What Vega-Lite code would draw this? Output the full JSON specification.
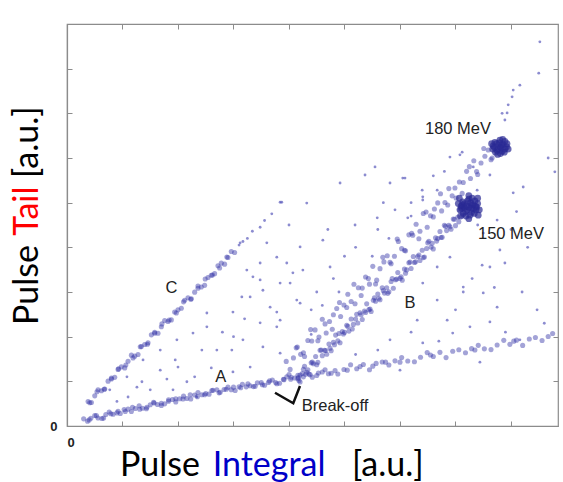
{
"$schema": "https://vega.github.io/schema/vega-lite/v6.json",
"width": 491, "height": 402,
"autosize": {"type": "none"},
"padding": {"left": 67, "top": 24, "right": 5, "bottom": 56},
"background": "white",
"config": {
 "view": {"stroke": "#8c8c8c", "strokeWidth": 1.2},
 "axis": {"grid": false, "domainColor": "#8c8c8c", "domainWidth": 1.2, "tickColor": "#8c8c8c", "tickSize": -5, "tickWidth": 1, "title": null, "labelFont": "Liberation Sans", "labelFontSize": 13, "labelFontWeight": "bold", "labelColor": "#222"}
},
"datasets": {
 "band": [
{"x":3.0,"y":1.6},{"x":3.7,"y":1.09},{"x":4.3,"y":1.75},{"x":5.0,"y":2.34},{"x":5.6,"y":1.8},{"x":6.3,"y":1.69},{"x":7.0,"y":2.59},{"x":7.6,"y":3.14},{"x":8.3,"y":2.64},{"x":9.0,"y":2.93},{"x":9.6,"y":2.79},{"x":10.3,"y":3.68},{"x":11.0,"y":3.77},{"x":11.6,"y":3.23},{"x":12.3,"y":3.92},{"x":13.0,"y":4.51},{"x":13.6,"y":3.97},{"x":14.3,"y":3.87},{"x":15.0,"y":4.76},{"x":15.6,"y":5.32},{"x":16.3,"y":4.81},{"x":17.0,"y":5.1},{"x":17.6,"y":4.96},{"x":18.3,"y":5.85},{"x":19.0,"y":5.94},{"x":19.6,"y":5.4},{"x":20.3,"y":6.09},{"x":21.0,"y":6.68},{"x":21.6,"y":6.14},{"x":22.3,"y":6.03},{"x":23.0,"y":6.93},{"x":23.6,"y":7.49},{"x":24.3,"y":6.98},{"x":25.0,"y":7.27},{"x":25.6,"y":7.13},{"x":26.3,"y":8.02},{"x":27.0,"y":8.11},{"x":27.6,"y":7.57},{"x":28.3,"y":8.16},{"x":29.0,"y":8.7},{"x":29.6,"y":8.12},{"x":30.3,"y":7.96},{"x":31.0,"y":8.8},{"x":31.6,"y":9.32},{"x":32.3,"y":8.76},{"x":33.0,"y":9.0},{"x":33.6,"y":8.82},{"x":34.3,"y":9.66},{"x":35.0,"y":9.7},{"x":35.6,"y":9.12},{"x":36.3,"y":9.76},{"x":37.0,"y":10.3},{"x":37.6,"y":9.72},{"x":38.3,"y":9.58},{"x":39.0,"y":10.45},{"x":39.6,"y":11.0},{"x":40.3,"y":10.48},{"x":41.0,"y":10.75},{"x":41.6,"y":10.6},{"x":42.0,"y":11.4},
{"x":4.0,"y":1.37},{"x":5.3,"y":2.32},{"x":6.6,"y":1.77},{"x":7.9,"y":2.73},{"x":9.2,"y":3.28},{"x":10.5,"y":3.24},{"x":11.8,"y":4.19},{"x":13.1,"y":3.74},{"x":14.4,"y":4.19},{"x":15.7,"y":5.15},{"x":17.0,"y":4.6},{"x":18.3,"y":5.55},{"x":19.6,"y":6.1},{"x":20.9,"y":6.05},{"x":22.2,"y":7.01},{"x":23.5,"y":6.56},{"x":24.8,"y":7.01},{"x":26.1,"y":7.96},{"x":27.4,"y":7.42},{"x":28.7,"y":8.24},{"x":30.0,"y":8.7},{"x":31.3,"y":8.56},{"x":32.6,"y":9.42},{"x":33.9,"y":8.88},{"x":35.2,"y":9.24},{"x":36.5,"y":10.1},{"x":37.8,"y":9.46},{"x":39.1,"y":10.38},{"x":40.4,"y":10.9},{"x":41.7,"y":10.83},
{"x":43.0,"y":11.6},{"x":44.2,"y":10.94},{"x":45.3,"y":11.85},{"x":46.5,"y":12.59},{"x":47.6,"y":11.81},{"x":48.8,"y":11.65},{"x":49.9,"y":12.66},{"x":51.1,"y":13.7},{"x":52.2,"y":12.82},{"x":53.4,"y":13.76},{"x":54.5,"y":12.58},{"x":55.7,"y":14.01},{"x":56.8,"y":14.33},{"x":58.0,"y":13.67},{"x":59.1,"y":14.59},{"x":60.3,"y":15.32},{"x":61.4,"y":14.54},{"x":62.6,"y":14.38},{"x":63.7,"y":15.4},{"x":64.9,"y":16.43},{"x":66.0,"y":15.55},{"x":67.2,"y":16.49},{"x":68.3,"y":15.31},{"x":69.5,"y":16.75},{"x":70.6,"y":17.06},{"x":71.8,"y":16.4},{"x":72.9,"y":17.32},{"x":74.1,"y":18.06},{"x":75.2,"y":17.27},{"x":76.4,"y":17.11},{"x":77.5,"y":18.13},{"x":78.7,"y":19.17},{"x":79.8,"y":18.28},{"x":81.0,"y":19.22},{"x":82.1,"y":18.04},{"x":83.3,"y":19.48},{"x":84.4,"y":19.8},{"x":85.6,"y":19.13},{"x":86.7,"y":20.05},{"x":87.5,"y":20.7},
{"x":42.6,"y":11.0},{"x":43.8,"y":11.5},{"x":45.0,"y":11.3},{"x":46.0,"y":12.1},{"x":47.1,"y":11.7},{"x":48.3,"y":12.4},{"x":50.5,"y":12.5},{"x":52.8,"y":13.3},{"x":55.1,"y":13.4},{"x":57.4,"y":14.3},{"x":60.0,"y":14.3},{"x":65.5,"y":15.9},{"x":73.5,"y":17.0},{"x":80.5,"y":19.0},
{"x":3.8,"y":5.5},{"x":4.4,"y":5.27},{"x":5.0,"y":6.75},{"x":5.6,"y":8.12},{"x":6.2,"y":7.9},{"x":6.8,"y":8.27},{"x":7.4,"y":10.04},{"x":8.0,"y":10.52},{"x":8.6,"y":10.89},{"x":9.2,"y":12.67},{"x":9.8,"y":13.24},{"x":10.4,"y":13.01},{"x":11.0,"y":14.49},{"x":11.6,"y":15.86},{"x":12.2,"y":15.64},{"x":12.8,"y":16.01},{"x":13.4,"y":17.78},{"x":14.0,"y":18.26},{"x":14.6,"y":18.63},{"x":15.2,"y":20.41},{"x":15.8,"y":20.98},{"x":16.4,"y":20.75},{"x":17.0,"y":22.23},{"x":17.6,"y":23.6},{"x":18.2,"y":23.38},{"x":18.8,"y":23.75},{"x":19.4,"y":25.52},{"x":20.0,"y":26.0},{"x":20.6,"y":26.37},{"x":21.2,"y":28.15},{"x":21.8,"y":28.72},{"x":22.4,"y":28.49},{"x":23.0,"y":29.97},{"x":23.6,"y":31.34},{"x":24.2,"y":31.12},{"x":24.8,"y":31.49},{"x":25.4,"y":33.26},{"x":26.0,"y":33.74},{"x":26.6,"y":34.11},{"x":27.2,"y":35.89},{"x":27.8,"y":36.46},{"x":28.4,"y":36.23},{"x":29.0,"y":37.71},{"x":29.6,"y":39.08},{"x":30.2,"y":38.86},
{"x":4.1,"y":5.19},{"x":5.4,"y":7.66},{"x":6.7,"y":8.24},{"x":8.0,"y":10.72},{"x":9.3,"y":12.8},{"x":10.6,"y":13.67},{"x":11.9,"y":15.25},{"x":13.2,"y":17.73},{"x":14.5,"y":18.3},{"x":15.8,"y":20.78},{"x":17.1,"y":22.86},{"x":18.4,"y":23.73},{"x":19.7,"y":25.31},{"x":21.0,"y":27.79},{"x":22.3,"y":28.37},{"x":23.6,"y":30.84},{"x":24.9,"y":32.92},{"x":26.2,"y":33.8},{"x":27.5,"y":35.37},{"x":28.8,"y":37.85},
{"x":39.5,"y":14.46},{"x":40.2,"y":12.67},{"x":40.8,"y":15.25},{"x":41.5,"y":17.66},{"x":42.1,"y":16.04},{"x":42.8,"y":15.55},{"x":43.4,"y":19.13},{"x":44.1,"y":19.04},{"x":44.7,"y":21.52},{"x":45.4,"y":19.93},{"x":46.0,"y":23.91},{"x":46.7,"y":20.82},{"x":47.3,"y":23.4},{"x":48.0,"y":24.91},{"x":48.6,"y":26.29},{"x":49.3,"y":24.5},{"x":49.9,"y":27.08},{"x":50.6,"y":29.49},{"x":51.2,"y":27.87},{"x":51.9,"y":27.38},{"x":52.5,"y":30.96},{"x":53.2,"y":30.87},{"x":53.8,"y":33.35},{"x":54.5,"y":31.76},{"x":55.1,"y":35.74},{"x":55.8,"y":32.65},{"x":56.4,"y":35.23},{"x":57.1,"y":36.74},{"x":57.7,"y":38.12},{"x":58.4,"y":36.33},{"x":59.0,"y":38.01},{"x":59.7,"y":41.32},{"x":60.3,"y":39.7},{"x":61.0,"y":39.21},{"x":61.6,"y":42.79},{"x":62.3,"y":42.7},{"x":62.9,"y":45.18},{"x":63.6,"y":43.59},{"x":64.2,"y":47.57},{"x":64.9,"y":44.48},{"x":65.5,"y":47.06},{"x":66.2,"y":48.57},{"x":66.8,"y":49.95},{"x":67.5,"y":48.16},{"x":68.1,"y":50.04},{"x":68.8,"y":53.15},{"x":69.4,"y":51.53},{"x":70.1,"y":51.04},{"x":70.7,"y":54.62},{"x":71.4,"y":54.53},{"x":72.0,"y":57.01},{"x":72.7,"y":55.42},{"x":73.3,"y":59.4},{"x":74.0,"y":56.31},{"x":74.6,"y":58.89},{"x":75.3,"y":60.4},{"x":75.9,"y":61.78},{"x":76.6,"y":59.99},
{"x":40.0,"y":11.51},{"x":41.3,"y":17.5},{"x":42.6,"y":16.39},{"x":43.9,"y":21.58},{"x":45.2,"y":19.07},{"x":46.5,"y":22.86},{"x":47.8,"y":21.65},{"x":49.1,"y":27.64},{"x":50.4,"y":26.53},{"x":51.7,"y":31.72},{"x":53.0,"y":29.21},{"x":54.3,"y":33.0},{"x":55.6,"y":31.79},{"x":56.9,"y":37.78},{"x":58.2,"y":36.67},{"x":59.5,"y":41.86},{"x":60.8,"y":39.35},{"x":62.1,"y":43.14},{"x":63.4,"y":41.93},{"x":64.7,"y":47.92},{"x":66.0,"y":46.81},{"x":67.3,"y":52.0},{"x":68.6,"y":49.49},{"x":69.9,"y":53.28},{"x":71.2,"y":52.07},{"x":72.5,"y":58.06},{"x":73.8,"y":56.95},{"x":75.1,"y":62.14},{"x":76.4,"y":59.63},
{"x":41.6,"y":11.35},{"x":42.0,"y":9.85},{"x":42.4,"y":11.75},{"x":42.8,"y":13.35},{"x":43.2,"y":12.05},{"x":43.6,"y":11.65},{"x":44.0,"y":14.15},{"x":44.4,"y":13.95},{"x":44.8,"y":15.55},{"x":45.2,"y":14.25},{"x":45.6,"y":16.95},{"x":46.0,"y":15.75},{"x":46.4,"y":16.95},{"x":46.8,"y":16.05},{"x":47.2,"y":18.35},{"x":47.6,"y":16.85},{"x":48.0,"y":18.75},{"x":48.4,"y":20.35},{"x":48.8,"y":19.05},{"x":49.2,"y":18.65},{"x":49.6,"y":21.15},{"x":50.0,"y":20.95},{"x":50.4,"y":22.55},{"x":50.8,"y":21.25},{"x":51.2,"y":23.95},{"x":51.6,"y":22.75},{"x":52.0,"y":23.95},{"x":52.4,"y":23.05},{"x":52.8,"y":25.35},{"x":53.2,"y":23.85},{"x":53.6,"y":25.75},{"x":54.0,"y":27.35},{"x":54.4,"y":26.05},{"x":54.8,"y":25.65},{"x":55.2,"y":28.15},{"x":55.6,"y":27.95},{"x":56.0,"y":29.55},{"x":56.4,"y":28.25},{"x":56.8,"y":30.95},{"x":57.2,"y":29.75},{"x":57.6,"y":30.95},{"x":58.0,"y":30.05},{"x":58.4,"y":32.35},{"x":58.8,"y":30.85},{"x":59.2,"y":32.75},{"x":59.6,"y":34.35},{"x":60.0,"y":33.05},{"x":60.4,"y":32.65},{"x":60.8,"y":35.15},{"x":61.2,"y":34.95},{"x":61.6,"y":36.55},{"x":62.0,"y":35.25},{"x":62.4,"y":37.95},{"x":62.8,"y":36.75},{"x":63.2,"y":37.95},{"x":63.6,"y":37.05},{"x":64.0,"y":39.35},{"x":64.4,"y":37.85},{"x":64.8,"y":39.75},{"x":65.2,"y":41.35},{"x":65.6,"y":40.05},{"x":66.0,"y":39.65},{"x":66.4,"y":42.15},{"x":66.8,"y":41.95},{"x":67.2,"y":43.55},{"x":67.6,"y":42.25},{"x":68.0,"y":44.95},{"x":68.4,"y":43.75},{"x":68.8,"y":44.95},{"x":69.2,"y":44.05},{"x":69.6,"y":46.35},{"x":70.0,"y":44.85},{"x":70.4,"y":46.75},{"x":70.8,"y":48.35},{"x":71.2,"y":47.05},
{"x":41.8,"y":10.2},{"x":42.6,"y":12.7},{"x":43.4,"y":12.6},{"x":44.2,"y":14.3},{"x":45.0,"y":13.7},{"x":45.8,"y":17.0},{"x":46.6,"y":16.9},{"x":47.4,"y":17.4},{"x":48.2,"y":18.2},{"x":49.0,"y":20.7},{"x":49.8,"y":20.6},{"x":50.6,"y":22.3},{"x":51.4,"y":21.7},{"x":52.2,"y":25.0},{"x":53.0,"y":24.9},{"x":53.8,"y":25.4},{"x":54.6,"y":26.2},{"x":55.4,"y":28.7},{"x":56.2,"y":28.6},{"x":57.0,"y":30.3},{"x":57.8,"y":29.7},{"x":58.6,"y":33.0},{"x":59.4,"y":32.9},{"x":60.2,"y":33.4},{"x":61.0,"y":34.2},{"x":61.8,"y":36.7},{"x":62.6,"y":36.6},{"x":63.4,"y":38.3},{"x":64.2,"y":37.7},{"x":65.0,"y":41.0},{"x":65.8,"y":40.9},{"x":66.6,"y":41.4},{"x":67.4,"y":42.2},{"x":68.2,"y":44.7},{"x":69.0,"y":44.6},{"x":69.8,"y":46.3},{"x":70.6,"y":45.7},{"x":71.4,"y":49.0}
 ],
 "blob": [
{"x":72.4,"y":49.0},{"x":73.2,"y":49.6},{"x":71.6,"y":49.8},{"x":72.9,"y":47.8},{"x":71.8,"y":48.0},{"x":73.8,"y":49.0},{"x":71.0,"y":49.2},{"x":72.4,"y":50.8},{"x":72.6,"y":47.2},{"x":73.5,"y":50.4},{"x":71.3,"y":50.2},{"x":73.4,"y":47.6},{"x":71.4,"y":47.6},{"x":74.0,"y":49.8},{"x":70.8,"y":48.4},{"x":73.0,"y":51.0},{"x":71.9,"y":47.0},{"x":74.3,"y":48.4},{"x":70.5,"y":49.8},{"x":72.7,"y":50.0},{"x":72.1,"y":48.4},{"x":73.7,"y":48.4},{"x":71.1,"y":48.8},{"x":72.9,"y":49.4},{"x":72.2,"y":50.4},{"x":73.2,"y":48.6},{"x":71.6,"y":49.0},{"x":74.0,"y":51.0},{"x":70.9,"y":47.0},{"x":74.1,"y":47.2},{"x":70.7,"y":51.0},{"x":72.4,"y":51.6},{"x":72.4,"y":46.4},{"x":73.6,"y":49.2},{"x":71.2,"y":49.5},{"x":72.0,"y":49.3},{"x":72.8,"y":48.7},
{"x":78.0,"y":62.5},{"x":78.6,"y":63.0},{"x":77.4,"y":63.2},{"x":78.4,"y":61.5},{"x":77.5,"y":61.7},{"x":79.2,"y":62.5},{"x":76.8,"y":62.7},{"x":78.0,"y":64.0},{"x":78.1,"y":61.0},{"x":78.9,"y":63.7},{"x":77.1,"y":63.5},{"x":78.8,"y":61.3},{"x":77.2,"y":61.3},{"x":79.3,"y":63.2},{"x":76.7,"y":62.0},{"x":78.5,"y":64.2},{"x":77.6,"y":60.8},{"x":79.5,"y":62.0},{"x":76.5,"y":63.2},{"x":78.3,"y":62.9},{"x":77.7,"y":62.0},{"x":78.9,"y":62.0},{"x":77.0,"y":62.4},{"x":78.2,"y":62.3},{"x":77.9,"y":63.4}
 ],
 "sparse": [
{"x":31.0,"y":40.5},{"x":31.7,"y":41.3},{"x":32.5,"y":42.0},{"x":33.4,"y":43.6},{"x":34.8,"y":44.5},{"x":35.6,"y":46.0},{"x":36.9,"y":47.5},{"x":38.4,"y":50.1},{"x":31.2,"y":41.0},
{"x":25.2,"y":22.2},{"x":24.3,"y":17},{"x":27,"y":17},{"x":29.7,"y":17},{"x":19.5,"y":14.8},{"x":20,"y":13.2},{"x":12.6,"y":8.7},{"x":13.5,"y":9.9},{"x":16.8,"y":12.5},{"x":21.6,"y":9.9},{"x":29.9,"y":12.1},{"x":32.4,"y":34.9},{"x":34.8,"y":36.5},{"x":37.8,"y":37.8},{"x":39.6,"y":36.5},{"x":33.5,"y":33.4},{"x":37.8,"y":25.5},{"x":38.4,"y":23.7},{"x":31.5,"y":28.9},{"x":29.9,"y":25.5},{"x":34.8,"y":23.1},{"x":25.2,"y":25.3},{"x":35.3,"y":30.4},{"x":40.2,"y":32},{"x":40.7,"y":34.3},{"x":42,"y":27.5},{"x":22.7,"y":20.8},{"x":19.8,"y":19.3},{"x":16.8,"y":17},{"x":13.7,"y":14.8},{"x":10.8,"y":11},{"x":7.7,"y":8.1},{"x":15,"y":8.1},{"x":19.1,"y":8.1},{"x":23.4,"y":6.5},{"x":38.7,"y":50.1},{"x":43.2,"y":49.9},{"x":49.2,"y":54.4},{"x":53.7,"y":56.2},{"x":55.5,"y":58},{"x":58.2,"y":54.4},{"x":60.5,"y":55.5},{"x":64,"y":52.8},{"x":64.1,"y":51.3},{"x":70.8,"y":60.7},{"x":51.9,"y":45},{"x":55.9,"y":46.6},{"x":59.1,"y":48.4},{"x":61.4,"y":46.6},{"x":42,"y":40.1},{"x":46.1,"y":41.6},{"x":47.4,"y":35.6},{"x":42.5,"y":34.9},{"x":38.4,"y":32},{"x":34.8,"y":32.7},{"x":33,"y":28.9},{"x":36.6,"y":26.6},{"x":41.4,"y":28.2},{"x":37.8,"y":22.2},{"x":31.7,"y":19.3},{"x":35.3,"y":17.7},{"x":33,"y":13.2},{"x":38.4,"y":16.3},{"x":64.1,"y":32},{"x":66.7,"y":28.2},{"x":71.4,"y":31.1},{"x":75,"y":29.8},{"x":63.1,"y":23.7},{"x":68.5,"y":23.7},{"x":58.2,"y":19.3},{"x":64.1,"y":18.6},{"x":72.6,"y":22.2},{"x":77.5,"y":26.6},{"x":76.2,"y":35.6},{"x":78,"y":39.4},{"x":66.7,"y":35.6},{"x":69,"y":37.8},{"x":75,"y":43.2},{"x":77.5,"y":46.1},{"x":73.9,"y":52.8},{"x":84.7,"y":26},{"x":78.9,"y":36.5},{"x":74.8,"y":36},{"x":71.4,"y":30},{"x":76.2,"y":23.3},{"x":69.5,"y":20.8},{"x":81.6,"y":19.3},{"x":60,"y":12.5},{"x":74.4,"y":14.3},{"x":85.2,"y":86},{"x":85,"y":79},{"x":81.6,"y":76.3},{"x":80.4,"y":75.2},{"x":80.2,"y":73.7},{"x":79.3,"y":70.1},{"x":78.9,"y":68.5},{"x":79.5,"y":71.9},{"x":78.4,"y":70},{"x":86.7,"y":60},{"x":87.9,"y":56.9},{"x":80.4,"y":52.2},{"x":82.2,"y":53.5},{"x":60.9,"y":55.5},{"x":64.1,"y":50.6},{"x":66.7,"y":52.8},{"x":69,"y":60.2},{"x":71.2,"y":61.3},{"x":73.2,"y":58},{"x":76.2,"y":56.2},{"x":45,"y":30},{"x":48,"y":33},{"x":50,"y":38},{"x":44,"y":26},{"x":52,"y":40},{"x":56,"y":44},{"x":57,"y":50},{"x":62,"y":50},{"x":66,"y":56},{"x":68,"y":57},{"x":47,"y":44},{"x":40,"y":45},{"x":36,"y":41},{"x":28,"y":21},{"x":26,"y":13},{"x":23,"y":11},{"x":18,"y":10.5},{"x":11,"y":6.5},{"x":9,"y":5.5},{"x":30,"y":20},{"x":32,"y":24},{"x":44,"y":20.5},{"x":46,"y":27},{"x":49,"y":30},{"x":55,"y":38},{"x":58,"y":42},{"x":62,"y":47},{"x":74,"y":45},{"x":80,"y":44},{"x":82,"y":30},{"x":86,"y":23},{"x":79,"y":21},{"x":62,"y":21},{"x":56,"y":17},{"x":52,"y":16},{"x":67,"y":19},{"x":70,"y":26},{"x":73,"y":33},{"x":77,"y":31},{"x":83,"y":40},{"x":81,"y":48}
 ]
},
"layer": [
 {
  "data": {"name": "band"},
  "mark": {"type": "circle", "size": 26, "opacity": 0.45, "color": "#3434a6"},
  "encoding": {
   "x": {"field": "x", "type": "quantitative", "scale": {"domain": [0, 88.47], "nice": false, "zero": false}, "axis": {"orient": "bottom", "values": [0,10,20,30,40,50,60,70,80], "labelExpr": "datum.value == 0 ? '0' : ''", "labelPadding": 15}},
   "y": {"field": "y", "type": "quantitative", "scale": {"domain": [0, 90], "nice": false, "zero": false}, "axis": {"orient": "left", "values": [0,10,20,30,40,50,60,70,80,90], "labelExpr": "datum.value == 0 ? '0' : ''", "labelPadding": 15}}
  }
 },
 {
  "data": {"name": "blob"},
  "mark": {"type": "circle", "size": 45, "opacity": 0.7, "color": "#2a2a94"},
  "encoding": {
   "x": {"field": "x", "type": "quantitative", "axis": null},
   "y": {"field": "y", "type": "quantitative", "axis": null}
  }
 },
 {
  "data": {"name": "sparse"},
  "mark": {"type": "circle", "size": 8, "opacity": 0.6, "color": "#4040b0"},
  "encoding": {
   "x": {"field": "x", "type": "quantitative", "axis": null},
   "y": {"field": "y", "type": "quantitative", "axis": null}
  }
 },
 {
  "data": {"values": [{"x": 37.48, "y": 7.45, "o": 1}, {"x": 40.77, "y": 5.08, "o": 2}, {"x": 41.98, "y": 8.95, "o": 3}]},
  "mark": {"type": "line", "color": "#111", "strokeWidth": 2.5},
  "encoding": {
   "x": {"field": "x", "type": "quantitative", "axis": {"orient": "top", "values": [10,20,30,40,50,60,70,80], "labels": false, "domain": false}},
   "y": {"field": "y", "type": "quantitative", "axis": {"orient": "right", "values": [10,20,30,40,50,60,70,80,90], "labels": false, "domain": false}},
   "order": {"field": "o"}
  }
 },
 {
  "data": {"values": [{"t": "180 MeV", "x": 70.45, "y": 66.6}, {"t": "150 MeV", "x": 80.0, "y": 43.0}, {"t": "B", "x": 61.8, "y": 27.6}, {"t": "C", "x": 18.8, "y": 30.8}, {"t": "A", "x": 27.7, "y": 10.9}, {"t": "Break-off", "x": 48.3, "y": 4.4}]},
  "mark": {"type": "text", "font": "Liberation Sans", "fontSize": 16.5, "color": "#222", "align": "center", "baseline": "middle"},
  "encoding": {
   "x": {"field": "x", "type": "quantitative", "axis": null},
   "y": {"field": "y", "type": "quantitative", "axis": null},
   "text": {"field": "t"}
  }
 },
 {"data": {"values": [{}]}, "mark": {"type": "text", "text": "Pulse", "font": "Lato", "fontSize": 34, "color": "#000", "align": "right", "baseline": "alphabetic"}, "encoding": {"x": {"datum": 23.96, "type": "quantitative", "axis": null}, "y": {"datum": -11.2, "type": "quantitative", "axis": null}}},
 {"data": {"values": [{}]}, "mark": {"type": "text", "text": "Integral", "font": "Lato", "fontSize": 34, "color": "#0000c8", "align": "center", "baseline": "alphabetic"}, "encoding": {"x": {"datum": 36.4, "type": "quantitative", "axis": null}, "y": {"datum": -11.2, "type": "quantitative", "axis": null}}},
 {"data": {"values": [{}]}, "mark": {"type": "text", "text": "[a.u.]", "font": "Lato", "fontSize": 34, "color": "#000", "align": "left", "baseline": "alphabetic"}, "encoding": {"x": {"datum": 51.35, "type": "quantitative", "axis": null}, "y": {"datum": -11.2, "type": "quantitative", "axis": null}}},
 {"data": {"values": [{}]}, "mark": {"type": "text", "text": "Pulse", "font": "Lato", "fontSize": 34, "color": "#000", "align": "right", "baseline": "alphabetic", "angle": 270}, "encoding": {"x": {"datum": -5.23, "type": "quantitative", "axis": null}, "y": {"datum": 40.5, "type": "quantitative", "axis": null}}},
 {"data": {"values": [{}]}, "mark": {"type": "text", "text": "Tail", "font": "Lato", "fontSize": 34, "color": "#ff0000", "align": "center", "baseline": "alphabetic", "angle": 270}, "encoding": {"x": {"datum": -5.23, "type": "quantitative", "axis": null}, "y": {"datum": 48.1, "type": "quantitative", "axis": null}}},
 {"data": {"values": [{}]}, "mark": {"type": "text", "text": "[a.u.]", "font": "Lato", "fontSize": 34, "color": "#000", "align": "left", "baseline": "alphabetic", "angle": 270}, "encoding": {"x": {"datum": -5.23, "type": "quantitative", "axis": null}, "y": {"datum": 55.5, "type": "quantitative", "axis": null}}}
],
"resolve": {"axis": {"x": "independent", "y": "independent"}}
}
